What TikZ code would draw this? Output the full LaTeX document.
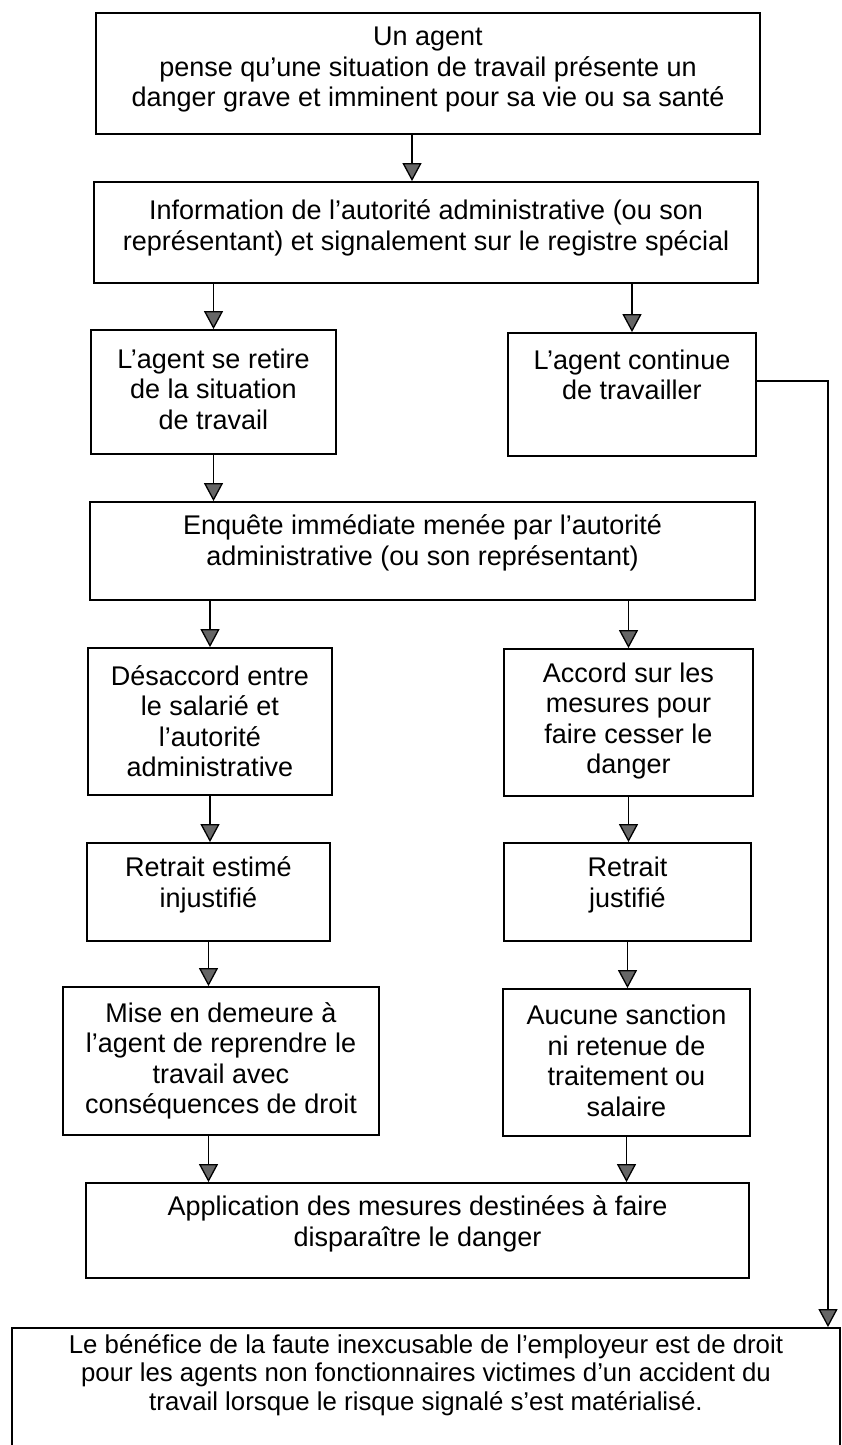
\documentclass[tikz,border=0pt]{standalone}
\usepackage{fontspec}
\setmainfont{Liberation Sans}
\usetikzlibrary{arrows.meta}
\begin{document}
\begin{tikzpicture}[x=1pt,y=-1pt,
  box/.style={draw=black, line width=1.8pt, inner sep=0pt},
  txt/.style={align=center, inner sep=0pt, font=\fontsize{27}{30.5}\selectfont},
  txtsmall/.style={align=center, inner sep=0pt, font=\fontsize{25.8}{28.5}\selectfont},
  arr/.style={line width=1.3pt, -{Triangle[width=19pt,length=18pt,fill=black!60]}}
]
\useasboundingbox (0,0) rectangle (842,1445);
\clip (0,0) rectangle (842,1445);
\fill[white] (0,0) rectangle (842,1445);

% boxes
\node[box, minimum width=664pt, minimum height=121pt] (top) at (428,73.5) {};
\node[box, minimum width=664pt, minimum height=101pt] (info) at (426,232.5) {};
\node[box, minimum width=245pt, minimum height=124pt] (retire) at (213.5,392) {};
\node[box, minimum width=248pt, minimum height=123pt] (cont) at (632,394.5) {};
\node[box, minimum width=665pt, minimum height=98pt] (enq) at (422.5,551) {};
\node[box, minimum width=244pt, minimum height=147pt] (desac) at (210,721.5) {};
\node[box, minimum width=249pt, minimum height=147pt] (accord) at (628.5,722.5) {};
\node[box, minimum width=243pt, minimum height=98pt] (injust) at (208.5,892) {};
\node[box, minimum width=247pt, minimum height=98pt] (just) at (627.5,892) {};
\node[box, minimum width=316pt, minimum height=148pt] (mise) at (221,1061) {};
\node[box, minimum width=247pt, minimum height=147pt] (aucune) at (626.5,1062.5) {};
\node[box, minimum width=663pt, minimum height=95pt] (appl) at (417.5,1230.5) {};
\node[box, minimum width=828pt, minimum height=130pt] (bot) at (426,1393) {};

% texts
\node[txt] (topT) at (428,70) {Un agent\\pense qu'une situation de travail présente un\\danger grave et imminent pour sa vie ou sa santé};
\node[txt] (infoT) at (426,228) {Information de l'autorité administrative (ou son\\représentant) et signalement sur le registre spécial};
\node[txt] (retireT) at (213.5,389) {L'agent se retire\\de la situation\\de travail};
\node[txt] (contT) at (632,375) {L'agent continue\\de travailler};
\node[txt] (enqT) at (422.5,543) {Enquête immédiate menée par l'autorité\\administrative (ou son représentant)};
\node[txt] (desacT) at (210,721) {Désaccord entre\\le salarié et\\l'autorité\\administrative};
\node[txt] (accordT) at (628.5,721) {Accord sur les\\mesures pour\\faire cesser le\\danger};
\node[txt] (injustT) at (208.5,885) {Retrait estimé\\injustifié};
\node[txt] (justT) at (627.5,885) {Retrait\\justifié};
\node[txt] (miseT) at (221,1061) {Mise en demeure à\\l'agent de reprendre le\\travail avec\\conséquences de droit};
\node[txt] (aucuneT) at (626.5,1061) {Aucune sanction\\ni retenue de\\traitement ou\\salaire};
\node[txt] (applT) at (417.5,1224) {Application des mesures destinées à faire\\disparaître le danger};
\node[txtsmall] (botT) at (426,1375) {Le bénéfice de la faute inexcusable de l'employeur est de droit\\pour les agents non fonctionnaires victimes d'un accident du\\travail lorsque le risque signalé s'est matérialisé.};

% connectors
\draw[arr] ([xshift=-16pt]top.south) -- ([xshift=-16pt]top.south |- info.north);
\draw[arr] (retire.north |- info.south) -- (retire.north);
\draw[arr] (cont.north |- info.south) -- (cont.north);
\draw[arr] (retire.south) -- (retire.south |- enq.north);
\draw[arr] (desac.north |- enq.south) -- (desac.north);
\draw[arr] (accord.north |- enq.south) -- (accord.north);
\draw[arr] (desac.south) -- (desac.south |- injust.north);
\draw[arr] (accord.south) -- (accord.south |- just.north);
\draw[arr] (injust.south) -- (injust.south |- mise.north);
\draw[arr] (just.south) -- (just.south |- aucune.north);
\draw[arr] (injust.south |- mise.south) -- (injust.south |- appl.north);
\draw[arr] (aucune.south) -- (aucune.south |- appl.north);
\coordinate (turn) at (828,381);
\draw[arr] ([yshift=13.5pt]cont.east) -- (turn) -- (turn |- bot.north);
\end{tikzpicture}
\end{document}
